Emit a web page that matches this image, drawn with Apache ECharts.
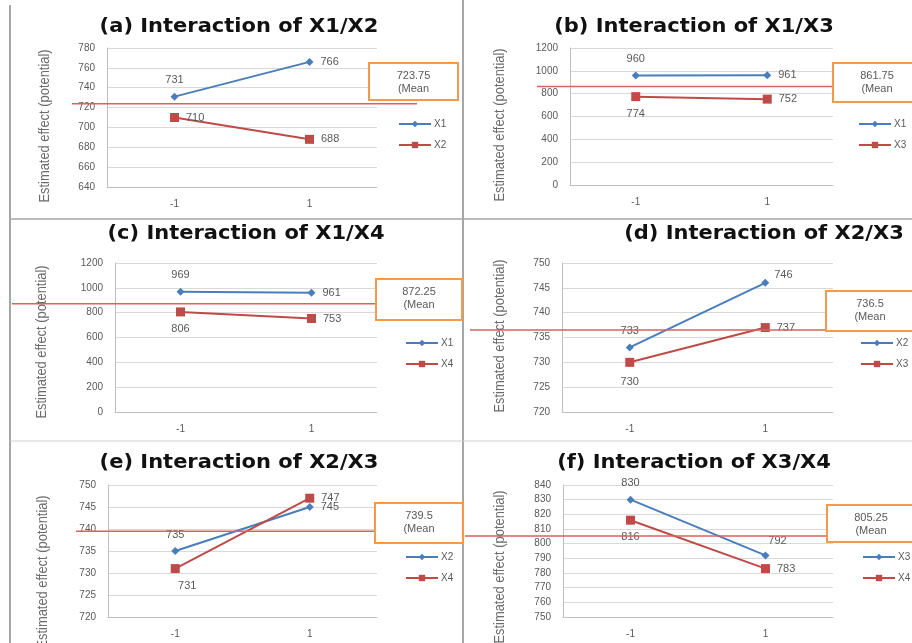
<!DOCTYPE html>
<html><head><meta charset="utf-8">
<script src="https://cdn.jsdelivr.net/npm/echarts@6/dist/echarts.min.js"></script>
<style>html,body{margin:0;padding:0;background:#fff}#chart{width:912px;height:643px}</style>
</head><body><div id="chart"></div>
<script>
// Factor levels on the x axis
const levels = ['-1', '1'];
const titles = [
  '(a) Interaction of X1/X2', '(b) Interaction of X1/X3', '(c) Interaction of X1/X4',
  '(d) Interaction of X2/X3', '(e) Interaction of X2/X3', '(f) Interaction of X3/X4'
];
const factorPairs = [['X1', 'X2'], ['X1', 'X3'], ['X1', 'X4'], ['X2', 'X3'], ['X2', 'X4'], ['X3', 'X4']];

// Estimated effect (potential) at level -1 and 1, first factor then second factor
const effectsA = [[731, 766], [710, 688]];
const effectsB = [[960, 961], [774, 752]];
const effectsC = [[969, 961], [806, 753]];
const effectsD = [[733, 746], [730, 737]];
const effectsE = [[735, 745], [731, 747]];
const effectsF = [[830, 792], [816, 783]];
const meanEffects = [723.75, 861.75, 872.25, 736.5, 739.5, 805.25];

// Value-axis ranges
const yMins = [640, 0, 0, 720, 720, 750];
const yMaxs = [780, 1200, 1200, 750, 750, 840];
const ySteps = [20, 200, 200, 5, 5, 10];

const allEffects = [effectsA, effectsB, effectsC, effectsD, effectsE, effectsF];
const yTitle = 'Estimated effect (potential)';

// ---- layout ----
const grids = [
  { left: 107, top: 48, width: 270, height: 139 },
  { left: 570, top: 48, width: 263, height: 137 },
  { left: 115, top: 263, width: 262, height: 149 },
  { left: 562, top: 263, width: 271, height: 149 },
  { left: 108, top: 485, width: 269, height: 132 },
  { left: 563, top: 485, width: 270, height: 132 }
];
const titlePos = [[239, 27], [694, 27], [246, 234], [764, 234], [239, 463], [694, 463]];
const yTitlePos = [[45, 126], [500, 125], [42, 342], [500, 336], [43, 572], [500, 567]];
const legendPos = [[393, 114], [853, 114], [400, 333], [855, 333], [400, 547], [857, 547]];
const meanSpan = [[72, 417], [537, 860], [12, 400], [470, 850], [76, 400], [465, 850]];
const meanBox = [
  [369, 63, 89, 37], [833, 63, 88, 39], [376, 279, 86, 41],
  [826, 291, 88, 40], [375, 503, 88, 40], [827, 505, 88, 37]
];
const labelSpots = [
  [[{ position: 'top' }, { position: 'right' }], [{ position: 'right' }, { position: 'right' }]],
  [[{ position: 'top' }, { position: 'right' }], [{ position: 'bottom' }, { position: 'right' }]],
  [[{ position: 'top' }, { position: 'right' }], [{ position: 'bottom' }, { position: 'right' }]],
  [[{ position: 'top' }, { position: 'right', offset: [-2, -8] }], [{ position: 'bottom', distance: 10 }, { position: 'right' }]],
  [[{ position: 'top' }, { position: 'right' }], [{ position: 'bottom', offset: [12, 0] }, { position: 'right' }]],
  [[{ position: 'top' }, { position: 'top', offset: [12, 2] }], [{ position: 'bottom' }, { position: 'right' }]]
];

const BLUE = '#4A7EBB';
const RED = '#BE4B48';
const GREY_TXT = '#595959';

const chart = echarts.init(document.getElementById('chart'), null, { renderer: 'canvas' });

const xAxes = [], yAxes = [], series = [], legends = [];
grids.forEach((g, p) => {
  xAxes.push({
    type: 'category', gridIndex: p, data: levels, boundaryGap: true,
    axisLine: { lineStyle: { color: '#BFBFBF', width: 1 } },
    axisTick: { show: false },
    axisLabel: { color: GREY_TXT, fontSize: 10, margin: 12, fontFamily: 'Liberation Sans' }
  });
  yAxes.push({
    type: 'value', gridIndex: p, min: yMins[p], max: yMaxs[p], interval: ySteps[p],
    axisLine: { show: true, lineStyle: { color: '#BFBFBF', width: 1 } },
    axisTick: { show: false },
    splitLine: { lineStyle: { color: '#D9D9D9', width: 1 } },
    axisLabel: {
      color: GREY_TXT, fontSize: 10, margin: 12, fontFamily: 'Liberation Sans',
      formatter: v => String(v)
    }
  });
  const names = [];
  allEffects[p].forEach((vals, s) => {
    const name = p + '|' + factorPairs[p][s];
    names.push(name);
    const color = s === 0 ? BLUE : RED;
    series.push({
      type: 'line', name, xAxisIndex: p, yAxisIndex: p,
      data: vals.map((v, i) => ({ value: v, label: labelSpots[p][s][i] })),
      symbol: s === 0 ? 'diamond' : 'rect',
      symbolSize: s === 0 ? 8 : 9,
      itemStyle: { color },
      lineStyle: { color, width: 2 },
      label: {
        show: true, color: GREY_TXT, fontSize: 11, distance: 7,
        fontFamily: 'Liberation Sans'
      },
      z: 3
    });
  });
  legends.push({
    data: names, left: legendPos[p][0], top: legendPos[p][1], orient: 'vertical',
    itemWidth: 32, itemHeight: 8, itemGap: 11, selectedMode: false,
    formatter: n => n.split('|')[1],
    textStyle: { color: GREY_TXT, fontSize: 10, fontFamily: 'Liberation Sans', padding: [0, 0, 0, -2] }
  });
});

chart.setOption({
  backgroundColor: '#ffffff',
  animation: false,
  grid: grids,
  xAxis: xAxes,
  yAxis: yAxes,
  legend: legends,
  series
});

// Panel frame, titles, axis titles, mean lines and mean boxes
const graphics = [];
graphics.push(
  { type: 'line', shape: { x1: 10, y1: 5, x2: 10, y2: 643 }, style: { stroke: '#A6A6A6', lineWidth: 2 }, z: 1 },
  { type: 'line', shape: { x1: 463, y1: 0, x2: 463, y2: 643 }, style: { stroke: '#A6A6A6', lineWidth: 2 }, z: 1 },
  { type: 'line', shape: { x1: 10, y1: 219, x2: 912, y2: 219 }, style: { stroke: '#A6A6A6', lineWidth: 1.5 }, z: 1 },
  { type: 'line', shape: { x1: 10, y1: 441, x2: 912, y2: 441 }, style: { stroke: '#D0D0D0', lineWidth: 1 }, z: 1 }
);
grids.forEach((g, p) => {
  graphics.push({
    type: 'text', x: titlePos[p][0], y: titlePos[p][1], scaleX: 1.05, z: 5,
    style: {
      text: titles[p], fill: '#111', font: 'bold 20px "DejaVu Sans", sans-serif',
      textAlign: 'center', textVerticalAlign: 'middle'
    }
  });
  // condensed vertical axis title
  graphics.push({
    type: 'text', x: yTitlePos[p][0], y: yTitlePos[p][1], rotation: Math.PI / 2,
    scaleX: 0.86, scaleY: 1, z: 5,
    style: {
      text: yTitle, fill: '#6B6B6B',
      font: '15px "Liberation Sans", sans-serif',
      textAlign: 'center', textVerticalAlign: 'middle'
    }
  });
  const yPix = chart.convertToPixel({ yAxisIndex: p }, meanEffects[p]);
  graphics.push({
    type: 'line', z: 4,
    shape: { x1: meanSpan[p][0], y1: yPix, x2: meanSpan[p][1], y2: yPix },
    style: { stroke: '#D9625F', lineWidth: 1.5 }
  });
  const b = meanBox[p];
  graphics.push({
    type: 'rect', z: 6,
    shape: { x: b[0], y: b[1], width: b[2], height: b[3] },
    style: { fill: '#ffffff', stroke: '#F59A4A', lineWidth: 2 }
  });
  graphics.push({
    type: 'text', z: 7, x: b[0] + b[2] / 2, y: b[1] + 6,
    style: {
      text: String(meanEffects[p]) + '\n(Mean', fill: GREY_TXT,
      font: '11px "Liberation Sans", sans-serif', lineHeight: 13,
      textAlign: 'center', textVerticalAlign: 'top'
    }
  });
});
chart.setOption({ graphic: graphics });
</script>
</body></html>
